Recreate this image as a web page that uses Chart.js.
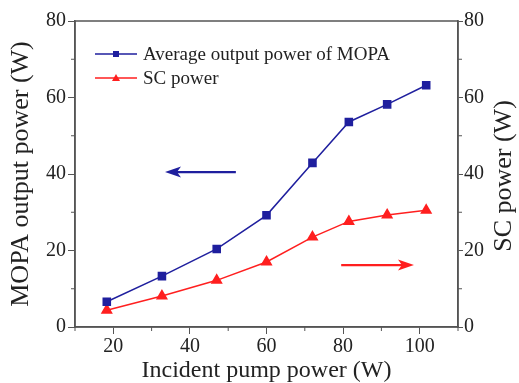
<!DOCTYPE html>
<html>
<head>
<meta charset="utf-8">
<script src="https://cdn.jsdelivr.net/npm/chart.js@4"></script>
<style>
  html, body { margin: 0; padding: 0; background: #fff; }
  #holder { width: 519px; height: 383px; }
</style>
</head>
<body>
<div id="holder"><canvas id="pumpChart"></canvas></div>
<script>
// incident pump power (W)
const pumpPower = [18.3, 32.7, 47, 60, 72, 81.5, 91.5, 101.7];
const mopaPower = [6.6, 13.3, 20.4, 29.2, 42.9, 53.6, 58.2, 63.2];
const scPower = [4.4, 8.1, 12.2, 17.0, 23.5, 27.6, 29.3, 30.5];

const xTicks = [20, 40, 60, 80, 100];
const yTicks = [0, 20, 40, 60, 80];

// arrows: [fromX, toX, atY] in data units
const blueArrow = [52, 33.5, 40.5];
const redArrow = [79.5, 98.5, 16.2];

const BLUE = "#1f1f9e";
const RED = "#ff1f1f";
const AXIS = "#555555";
const TEXT = "#222222";
const FONT = "'Liberation Serif', 'Times New Roman', serif";

const frame = {
    id: "frame",
    afterDraw(chart) {
        const ctx = chart.ctx;
        const a = chart.chartArea;
        const sx = chart.scales.x, sy = chart.scales.y, sy2 = chart.scales.y2;
        ctx.save();
        ctx.strokeStyle = AXIS;
        ctx.lineWidth = 1.5;
        ctx.strokeRect(a.left, a.top, a.right - a.left, a.bottom - a.top);

        // minor ticks
        ctx.lineWidth = 1;
        for (let v = 10; v <= 110; v += 20) {
            const px = sx.getPixelForValue(v);
            ctx.beginPath(); ctx.moveTo(px, a.bottom); ctx.lineTo(px, a.bottom + 4); ctx.stroke();
        }
        for (let v = 10; v <= 70; v += 20) {
            const py = sy.getPixelForValue(v);
            ctx.beginPath(); ctx.moveTo(a.left, py); ctx.lineTo(a.left - 4, py); ctx.stroke();
            const py2 = sy2.getPixelForValue(v);
            ctx.beginPath(); ctx.moveTo(a.right, py2); ctx.lineTo(a.right + 4, py2); ctx.stroke();
        }

        // arrows
        const drawArrow = (arr, color, yScale) => {
            const x1 = sx.getPixelForValue(arr[0]);
            const x2 = sx.getPixelForValue(arr[1]);
            const y = yScale.getPixelForValue(arr[2]);
            const dir = x2 > x1 ? 1 : -1;
            ctx.strokeStyle = color;
            ctx.fillStyle = color;
            ctx.lineWidth = 2.2;
            ctx.beginPath(); ctx.moveTo(x1, y); ctx.lineTo(x2 - dir * 10, y); ctx.stroke();
            ctx.beginPath();
            ctx.moveTo(x2, y);
            ctx.lineTo(x2 - dir * 16, y - 5.5);
            ctx.lineTo(x2 - dir * 12, y);
            ctx.lineTo(x2 - dir * 16, y + 5.5);
            ctx.closePath();
            ctx.fill();
        };
        drawArrow(blueArrow, BLUE, sy);
        drawArrow(redArrow, RED, sy2);

        // legend
        ctx.font = "19px " + FONT;
        ctx.textBaseline = "middle";
        chart.data.datasets.forEach((ds, i) => {
            const y = 54 + i * 24;
            const x0 = 95, x1 = 137, xm = (x0 + x1) / 2;
            ctx.strokeStyle = ds.borderColor;
            ctx.lineWidth = 1.5;
            ctx.beginPath(); ctx.moveTo(x0, y); ctx.lineTo(x1, y); ctx.stroke();
            ctx.fillStyle = ds.borderColor;
            if (ds.pointStyle === "rect") {
                ctx.fillRect(xm - 3, y - 3, 6, 6);
            } else {
                ctx.beginPath();
                ctx.moveTo(xm, y - 4); ctx.lineTo(xm + 4, y + 3); ctx.lineTo(xm - 4, y + 3);
                ctx.closePath(); ctx.fill();
            }
            ctx.fillStyle = TEXT;
            ctx.fillText(ds.label, 143, y + 1);
        });

        // right axis title, reading bottom to top
        ctx.translate(504, (a.top + a.bottom) / 2 + 2);
        ctx.rotate(-Math.PI / 2);
        ctx.font = "26px " + FONT;
        ctx.textAlign = "center";
        ctx.fillStyle = TEXT;
        ctx.fillText("SC power (W)", 0, 0);
        ctx.restore();
    }
};

const canvasElement = document.querySelector("#pumpChart");

const pumpChart = new Chart(canvasElement, {
    type: "line",
    data: {
        datasets: [{
            label: "Average output power of MOPA",
            data: pumpPower.map((p, i) => ({ x: p, y: mopaPower[i] })),
            borderColor: BLUE,
            backgroundColor: BLUE,
            borderWidth: 1.5,
            pointStyle: "rect",
            pointRadius: 5,
            yAxisID: "y"
        }, {
            label: "SC power",
            data: pumpPower.map((p, i) => ({ x: p, y: scPower[i] })),
            borderColor: RED,
            backgroundColor: RED,
            borderWidth: 1.5,
            pointStyle: "triangle",
            pointRadius: 5.5,
            yAxisID: "y2"
        }]
    },
    options: {
        responsive: true,
        maintainAspectRatio: false,
        animation: false,
        layout: { padding: { top: 21, left: 0, right: 0, bottom: 0 } },
        plugins: { legend: { display: false }, tooltip: { enabled: false } },
        scales: {
            x: {
                type: "linear",
                min: 10, max: 110,
                afterBuildTicks: (s) => { s.ticks = xTicks.map(v => ({ value: v })); },
                afterFit: (s) => { s.height = 56; },
                grid: { drawOnChartArea: false, tickLength: 7, color: AXIS },
                border: { color: AXIS, width: 1.5 },
                ticks: { color: TEXT, font: { family: FONT, size: 20 }, padding: 1 },
                title: { display: true, text: "Incident pump power (W)", color: TEXT, font: { family: FONT, size: 24 }, padding: { top: 0, bottom: -2 } }
            },
            y: {
                position: "left",
                min: 0, max: 80,
                afterBuildTicks: (s) => { s.ticks = yTicks.map(v => ({ value: v })); },
                afterFit: (s) => { s.width = 75; },
                grid: { drawOnChartArea: false, tickLength: 7, color: AXIS },
                border: { color: AXIS, width: 1.5 },
                ticks: { color: TEXT, font: { family: FONT, size: 20 }, padding: 2 },
                title: { display: true, text: "MOPA output power (W)", color: TEXT, font: { family: FONT, size: 26 }, padding: { top: 6, bottom: 0 } }
            },
            y2: {
                position: "right",
                min: 0, max: 80,
                afterBuildTicks: (s) => { s.ticks = yTicks.map(v => ({ value: v })); },
                afterFit: (s) => { s.width = 61; },
                grid: { drawOnChartArea: false, tickLength: 5, color: AXIS },
                border: { color: AXIS, width: 1.5 },
                ticks: { color: TEXT, font: { family: FONT, size: 20 }, padding: 1 }
            }
        }
    },
    plugins: [frame]
});
</script>
</body>
</html>
